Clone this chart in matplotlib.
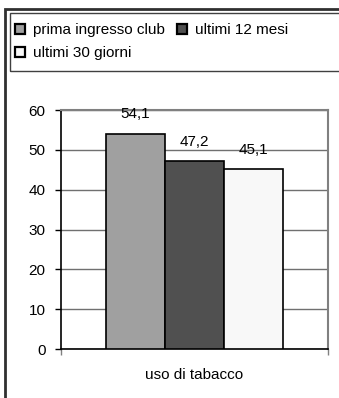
import numpy as np
import matplotlib.pyplot as plt
from matplotlib.patches import Rectangle

plt.rcParams['font.family'] = ['Liberation Sans', 'DejaVu Sans']
plt.rcParams['font.size'] = 11

category = "uso di tabacco"
series = ["prima ingresso club", "ultimi 12 mesi", "ultimi 30 giorni"]
values = [54.1, 47.2, 45.1]
labels = ["54,1", "47,2", "45,1"]
colors = ["#a0a0a0", "#505050", "#f8f8f8"]

fig = plt.figure(figsize=(3.39, 3.98), dpi=100)
ax = fig.add_axes([0.180, 0.1231, 0.7876, 0.6005])

width = 0.221
offsets = (np.arange(len(values)) - 1) * width
bars = []
for off, v, lab, c, name in zip(offsets, values, labels, colors, series):
    b = ax.bar(off, v, width=width, color=c, edgecolor="black", linewidth=1.2,
               label=name, zorder=3)
    bars.append(b)
    ax.annotate(lab, (off, v), xytext=(0, 14), textcoords="offset points",
                ha="center", va="center", fontsize=11, zorder=4)

ax.set_xlim(-0.5, 0.5)
ax.set_ylim(0, 60)
ax.set_yticks(range(0, 61, 10))
ax.yaxis.grid(True, color="#707070", linewidth=1, zorder=0)
ax.tick_params(axis="y", length=4, width=1, pad=7, direction="out")
ax.set_xticks([0])
ax.set_xticklabels([category])
ax.tick_params(axis="x", length=0, pad=14)
ax.set_xticks([-0.5, 0.5], minor=True)
ax.tick_params(axis="x", which="minor", length=4, width=1, color="#808080")

for side in ("left", "bottom"):
    ax.spines[side].set_color("black")
    ax.spines[side].set_linewidth(1.2)
for side in ("top", "right"):
    ax.spines[side].set_color("#808080")
    ax.spines[side].set_linewidth(1.5)

# outer frame and legend box
fig.patches.append(Rectangle((5 / 339, -0.1), 1.2, 1 - 9 / 398 + 0.1,
                             transform=fig.transFigure, fill=False,
                             edgecolor="#303030", linewidth=2))
fig.patches.append(Rectangle((9.5 / 339, 1 - 71 / 398), 1.2, (71 - 13) / 398,
                             transform=fig.transFigure, fill=False,
                             edgecolor="#404040", linewidth=1))

# legend filled row by row: reorder for the column-wise layout
handles = [b[0] for b in bars]
order = [0, 2, 1]
leg = fig.legend([handles[i] for i in order], [series[i] for i in order],
                 ncol=2, loc="upper left", bbox_to_anchor=(12 / 339, 1 - 20 / 398),
                 frameon=False, fontsize=11, handlelength=0.62, handleheight=0.62,
                 handletextpad=0.55, columnspacing=0.8, labelspacing=0.6,
                 borderpad=0.2, borderaxespad=0)
for p in leg.get_patches():
    p.set_linewidth(1.6)

fig.savefig("out.png", dpi=100)
